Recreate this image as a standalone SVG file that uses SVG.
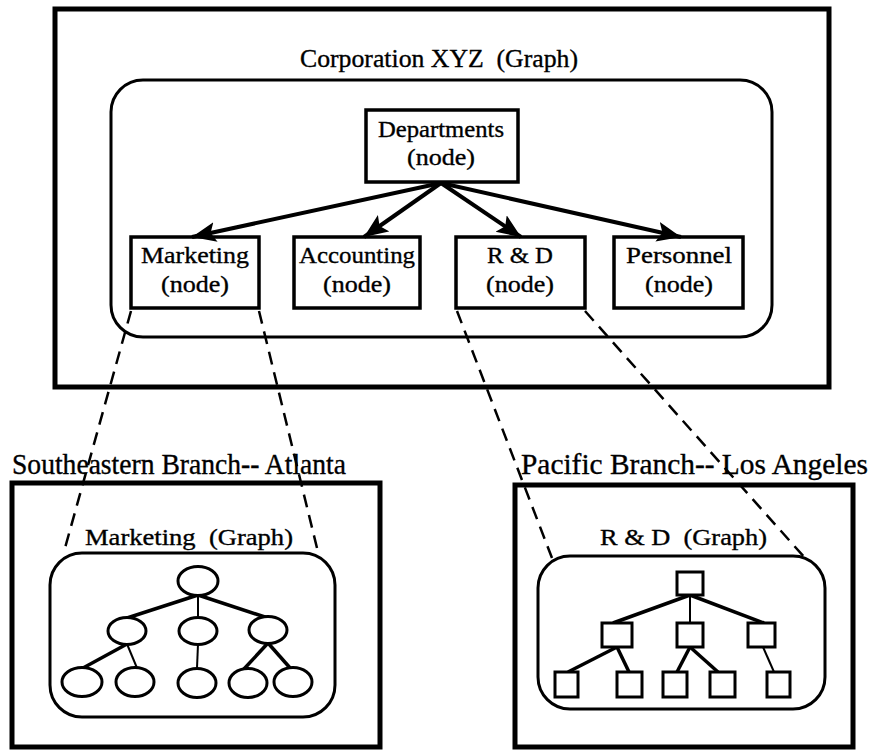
<svg xmlns="http://www.w3.org/2000/svg" width="892" height="752" viewBox="0 0 892 752">
  <style>
    text { font-family: "Liberation Serif", "Times New Roman", serif; fill: #000; stroke: #000; stroke-width: 0.35; white-space: pre; }
    .frame { fill: none; stroke: #000; stroke-width: 5; }
    .graph { fill: none; stroke: #000; stroke-width: 3; }
    .box { fill: #fff; stroke: #000; stroke-width: 3.5; }
    .lbl { font-size: 24px; text-anchor: middle; }
    .title { font-size: 26px; }
    .branch { font-size: 29px; }
    .sub { font-size: 24px; }
    .arrow { fill: none; stroke: #000; stroke-width: 4; marker-end: url(#head); }
    .dash { fill: none; stroke: #000; stroke-width: 2.5; stroke-dasharray: 13 8; }
    .edge { fill: none; stroke: #000; stroke-width: 3.5; }
    .edge-thin { fill: none; stroke: #000; stroke-width: 2; }
    .tnode { fill: #fff; stroke: #000; stroke-width: 3; }
  </style>
  <defs>
    <marker id="head" markerUnits="userSpaceOnUse" markerWidth="28" markerHeight="22" refX="24" refY="10" orient="auto">
      <path d="M0,0 L24,10 L0,20 L5,10 Z" fill="#000"/>
    </marker>
  </defs>

  <rect width="892" height="752" fill="#fff"/>

  <!-- Corporation XYZ graph -->
  <g id="corporation-graph">
    <rect class="frame" x="55" y="9" width="774" height="378"/>
    <rect class="graph" x="111" y="80" width="661" height="257" rx="32" ry="32"/>
    <text class="title" x="300" y="67" textLength="278" lengthAdjust="spacingAndGlyphs">Corporation XYZ  (Graph)</text>
  </g>

  <g id="departments">
    <rect class="box" x="366" y="110" width="152" height="72"/>
    <text class="lbl" x="441" y="137" textLength="126" lengthAdjust="spacingAndGlyphs">Departments</text>
    <text class="lbl" x="441" y="165" textLength="68" lengthAdjust="spacingAndGlyphs">(node)</text>
  </g>

  <g id="marketing">
    <rect class="box" x="131" y="237" width="128" height="71"/>
    <text class="lbl" x="195" y="263" textLength="108" lengthAdjust="spacingAndGlyphs">Marketing</text>
    <text class="lbl" x="195" y="292" textLength="68" lengthAdjust="spacingAndGlyphs">(node)</text>
  </g>

  <g id="accounting">
    <rect class="box" x="294" y="237" width="126" height="71"/>
    <text class="lbl" x="357" y="263" textLength="116" lengthAdjust="spacingAndGlyphs">Accounting</text>
    <text class="lbl" x="357" y="292" textLength="68" lengthAdjust="spacingAndGlyphs">(node)</text>
  </g>

  <g id="r-and-d">
    <rect class="box" x="456" y="237" width="129" height="71"/>
    <text class="lbl" x="520" y="263" textLength="66" lengthAdjust="spacingAndGlyphs">R &amp; D</text>
    <text class="lbl" x="520" y="292" textLength="68" lengthAdjust="spacingAndGlyphs">(node)</text>
  </g>

  <g id="personnel">
    <rect class="box" x="614" y="237" width="129" height="71"/>
    <text class="lbl" x="679" y="263" textLength="106" lengthAdjust="spacingAndGlyphs">Personnel</text>
    <text class="lbl" x="679" y="292" textLength="68" lengthAdjust="spacingAndGlyphs">(node)</text>
  </g>

  <!-- Southeastern branch -->
  <g id="southeastern-branch">
    <text class="branch" x="12" y="474" textLength="334" lengthAdjust="spacingAndGlyphs">Southeastern Branch-- Atlanta</text>
    <rect class="frame" x="12" y="483" width="368" height="264"/>
  </g>

  <g id="marketing-graph">
    <rect class="graph" x="50" y="553" width="285" height="164" rx="32" ry="32"/>
    <text class="sub" x="85" y="545" textLength="208" lengthAdjust="spacingAndGlyphs">Marketing  (Graph)</text>
  </g>

  <!-- Pacific branch -->
  <g id="pacific-branch">
    <text class="branch" x="521" y="474" textLength="347" lengthAdjust="spacingAndGlyphs">Pacific Branch-- Los Angeles</text>
    <rect class="frame" x="515" y="485" width="338" height="262"/>
  </g>

  <g id="rd-graph">
    <rect class="graph" x="538" y="556" width="287" height="153" rx="32" ry="32"/>
    <text class="sub" x="600" y="545" textLength="167" lengthAdjust="spacingAndGlyphs">R &amp; D  (Graph)</text>
  </g>

  <!-- connectors -->
  <g id="connectors">
    <!-- department hierarchy -->
    <path class="arrow" d="M441,183 L192,237"/>
    <path class="arrow" d="M441,183 L364,237"/>
    <path class="arrow" d="M441,183 L521,237"/>
    <path class="arrow" d="M441,183 L681,237"/>

    <!-- node expansions -->
    <path class="dash" d="M131,311 L65,548"/>
    <path class="dash" d="M259,311 L317,548"/>
    <path class="dash" d="M457,311 L552,558"/>
    <path class="dash" d="M585,311 L805,558"/>

    <!-- marketing tree edges -->
    <path class="edge" d="M198,595 L127,618"/>
    <path class="edge-thin" d="M198,595 L198,618"/>
    <path class="edge" d="M198,595 L268,618"/>
    <path class="edge" d="M127,644 L83,668"/>
    <path class="edge-thin" d="M127,644 L137,668"/>
    <path class="edge-thin" d="M198,644 L197,668"/>
    <path class="edge" d="M268,643 L244,669"/>
    <path class="edge" d="M268,643 L291,669"/>

    <!-- r&d tree edges -->
    <path class="edge" d="M690,595 L613,623"/>
    <path class="edge-thin" d="M690,595 L690,623"/>
    <path class="edge" d="M690,595 L764,623"/>
    <path class="edge" d="M617,647 L568,672"/>
    <path class="edge" d="M617,647 L629,672"/>
    <path class="edge" d="M690,647 L677,672"/>
    <path class="edge" d="M690,647 L718,672"/>
    <path class="edge-thin" d="M763,647 L774,672"/>
  </g>

  <!-- marketing tree nodes -->
  <g id="m-root"><ellipse class="tnode" cx="198" cy="581" rx="20" ry="14.5"/></g>
  <g id="m-a"><ellipse class="tnode" cx="127" cy="631" rx="19" ry="13.5"/></g>
  <g id="m-b"><ellipse class="tnode" cx="198" cy="631" rx="19" ry="13.5"/></g>
  <g id="m-c"><ellipse class="tnode" cx="268" cy="630" rx="19" ry="13.5"/></g>
  <g id="m-a1"><ellipse class="tnode" cx="82" cy="682" rx="20" ry="14.5"/></g>
  <g id="m-a2"><ellipse class="tnode" cx="135" cy="682" rx="19" ry="14.5"/></g>
  <g id="m-b1"><ellipse class="tnode" cx="197" cy="683" rx="19" ry="14.5"/></g>
  <g id="m-c1"><ellipse class="tnode" cx="248" cy="683" rx="19" ry="14.5"/></g>
  <g id="m-c2"><ellipse class="tnode" cx="293" cy="682" rx="19" ry="14.5"/></g>

  <!-- r&d tree nodes -->
  <g id="r-root"><rect class="tnode" x="677" y="572" width="26" height="23"/></g>
  <g id="r-a"><rect class="tnode" x="602" y="623" width="30" height="24"/></g>
  <g id="r-b"><rect class="tnode" x="677" y="623" width="26" height="24"/></g>
  <g id="r-c"><rect class="tnode" x="748" y="623" width="27" height="24"/></g>
  <g id="r-a1"><rect class="tnode" x="555" y="672" width="23" height="25"/></g>
  <g id="r-a2"><rect class="tnode" x="617" y="672" width="25" height="25"/></g>
  <g id="r-b1"><rect class="tnode" x="663" y="672" width="24" height="25"/></g>
  <g id="r-b2"><rect class="tnode" x="710" y="672" width="25" height="25"/></g>
  <g id="r-c1"><rect class="tnode" x="767" y="672" width="23" height="25"/></g>
</svg>
